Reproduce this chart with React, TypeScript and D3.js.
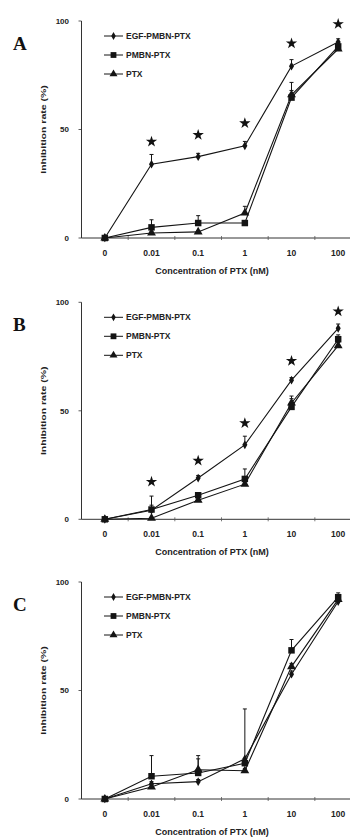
import React from "react";
import * as d3 from "d3";

const categories = ["0", "0.01", "0.1", "1", "10", "100"];
const seriesNames = ["EGF-PMBN-PTX", "PMBN-PTX", "PTX"];
const panelLabels = ["A", "B", "C"];
const yTicks = [0, 50, 100];

// Panel A
const aEgf = [0, 34, 37.5, 42.5, 79.2, 90.3];
const aEgfErr = [0, 4.5, 1.5, 2, 3, 1.5];
const aPmbn = [0, 4.9, 6.9, 6.9, 64.7, 88.3];
const aPmbnErr = [0, 3.5, 3.4, 0.8, 7, 1.5];
const aPtx = [0, 2.3, 2.8, 11.5, 66, 87.1];
const aPtxErr = [0, 0.5, 0.5, 3.1, 2, 1.5];
const aStars = [null, 44.4, 47.5, 52.9, 89.7, 98.6];

// Panel B
const bEgf = [0, 4.2, 19, 34.3, 64.1, 88];
const bEgfErr = [0, 6.5, 1.2, 4, 1.2, 2];
const bPmbn = [0, 4.5, 11.1, 18.6, 51.8, 83];
const bPmbnErr = [0, 2, 1, 4.6, 5, 2];
const bPtx = [0, 0.5, 8.8, 16.2, 53.6, 80];
const bPtxErr = [0, 0, 1, 1.5, 2, 1.5];
const bStars = [null, 17.3, 27, 44.3, 73, 95.8];

// Panel C
const cEgf = [0, 7, 8, 18.5, 57.5, 91];
const cEgfErr = [0, 1, 1, 23, 1.5, 2];
const cPmbn = [0, 10.5, 12, 16.5, 68.5, 93];
const cPmbnErr = [0, 9.5, 8, 2, 5, 2];
const cPtx = [0, 5.5, 13.5, 13, 61, 92];
const cPtxErr = [0, 1, 5, 1, 1.5, 1.5];
const cStars = [null, null, null, null, null, null];

const panels = [
  { label: panelLabels[0], series: [aEgf, aPmbn, aPtx], errs: [aEgfErr, aPmbnErr, aPtxErr], stars: aStars },
  { label: panelLabels[1], series: [bEgf, bPmbn, bPtx], errs: [bEgfErr, bPmbnErr, bPtxErr], stars: bStars },
  { label: panelLabels[2], series: [cEgf, cPmbn, cPtx], errs: [cEgfErr, cPmbnErr, cPtxErr], stars: cStars },
];

const W = 350;
const H = 838;
const panelOffsets = [0, 281.3, 561];
const axisX = 81.5;
const ink = "#141414";
const sans = "'Liberation Sans', Arial, sans-serif";

const x = d3.scaleBand<string>().domain(categories).range([axisX, axisX + 6 * 46.67]).padding(0);
const symbols = [d3.symbolDiamond, d3.symbolSquare, d3.symbolTriangle];
const symbolSizes = [22, 42, 34];

function Panel({ p, top }: { p: any; top: number }) {
  const y = d3.scaleLinear().domain([0, 100]).range([top + 238, top + 21]);
  const cx = (i: number) => (x(categories[i]) as number) + x.bandwidth() / 2;
  const line = d3
    .line<number>()
    .x((_, i) => cx(i))
    .y((d) => y(d));
  const boundaries = categories.slice(1).map((c) => x(c) as number);
  const star = d3.symbol().type(d3.symbolStar).size(40)();
  return (
    <g>
      {/* axes */}
      <line x1={axisX} x2={W} y1={y(0)} y2={y(0)} stroke="#333" strokeWidth={1} />
      <line x1={axisX} x2={axisX} y1={y(0)} y2={y(100)} stroke="#333" strokeWidth={1} />
      {boundaries.map((b, i) => (
        <line key={i} x1={b} x2={b} y1={y(0) - 2} y2={y(0) + 2} stroke="#555" strokeWidth={0.8} />
      ))}
      {yTicks.map((t) => (
        <g key={t}>
          <line x1={axisX - 3} x2={axisX} y1={y(t)} y2={y(t)} stroke="#333" strokeWidth={0.8} />
          <text x={69} y={y(t)} dy="0.35em" textAnchor="end" fontSize={8} fontWeight="bold" fill="#222" fontFamily={sans}>
            {t}
          </text>
        </g>
      ))}
      {categories.map((c, i) => (
        <text key={c} x={cx(i)} y={y(0) + 15} dy="0.35em" textAnchor="middle" fontSize={8.5} fontWeight="bold" fill="#222" fontFamily={sans}>
          {c}
        </text>
      ))}
      <text x={212} y={y(0) + 33} dy="0.35em" textAnchor="middle" fontSize={9} fontWeight="bold" fill="#222" fontFamily={sans}>
        Concentration of PTX (nM)
      </text>
      <text
        transform={`translate(43.5,${(y(0) + y(100)) / 2}) rotate(-90) scale(1,0.75)`}
        dy="0.35em"
        textAnchor="middle"
        fontSize={10.5}
        fontWeight="bold"
        fill="#222"
        fontFamily={sans}
      >
        Inhibition rate (%)
      </text>
      <text x={13} y={top + 50} fontSize={19} fontWeight="bold" fill="#111" fontFamily="'Liberation Serif', 'Times New Roman', serif">
        {p.label}
      </text>
      {/* legend */}
      {seriesNames.map((n, k) => {
        const ly = top + 36 + k * 19;
        return (
          <g key={n}>
            <line x1={104} x2={123} y1={ly} y2={ly} stroke={ink} strokeWidth={1} />
            <path d={d3.symbol().type(symbols[k]).size(symbolSizes[k] * 0.8)() as string} transform={`translate(113.5,${ly})`} fill={ink} />
            <text x={126} y={ly} dy="0.35em" fontSize={8.5} fontWeight="bold" fill="#222" fontFamily={sans}>
              {n}
            </text>
          </g>
        );
      })}
      {/* series lines */}
      {p.series.map((s: number[], k: number) => (
        <path key={k} d={line(s) as string} fill="none" stroke={ink} strokeWidth={1.1} />
      ))}
      {/* error bars */}
      {p.series.map((s: number[], k: number) =>
        s.map((v, i) =>
          p.errs[k][i] > 0 ? (
            <g key={`${k}-${i}`}>
              <line x1={cx(i)} x2={cx(i)} y1={y(v)} y2={y(v + p.errs[k][i])} stroke={ink} strokeWidth={1} />
              <line x1={cx(i) - 2} x2={cx(i) + 2} y1={y(v + p.errs[k][i])} y2={y(v + p.errs[k][i])} stroke={ink} strokeWidth={1} />
            </g>
          ) : null
        )
      )}
      {/* markers */}
      {p.series.map((s: number[], k: number) =>
        s.map((v, i) => (
          <path
            key={`m${k}-${i}`}
            d={d3.symbol().type(symbols[k]).size(symbolSizes[k])() as string}
            transform={`translate(${cx(i)},${y(v)})`}
            fill={ink}
          />
        ))
      )}
      {/* significance stars */}
      {p.stars.map((v: number | null, i: number) =>
        v == null ? null : <path key={`s${i}`} d={star as string} transform={`translate(${cx(i)},${y(v)})`} fill="#111" />
      )}
    </g>
  );
}

export default function App() {
  return (
    <div style={{ position: "absolute", left: 0, top: 0 }}>
      <svg width={W} height={H} style={{ display: "block", background: "#fff" }}>
        <rect width={W} height={H} fill="#fff" />
        {panels.map((p, i) => (
          <Panel key={p.label} p={p} top={panelOffsets[i]} />
        ))}
      </svg>
    </div>
  );
}
